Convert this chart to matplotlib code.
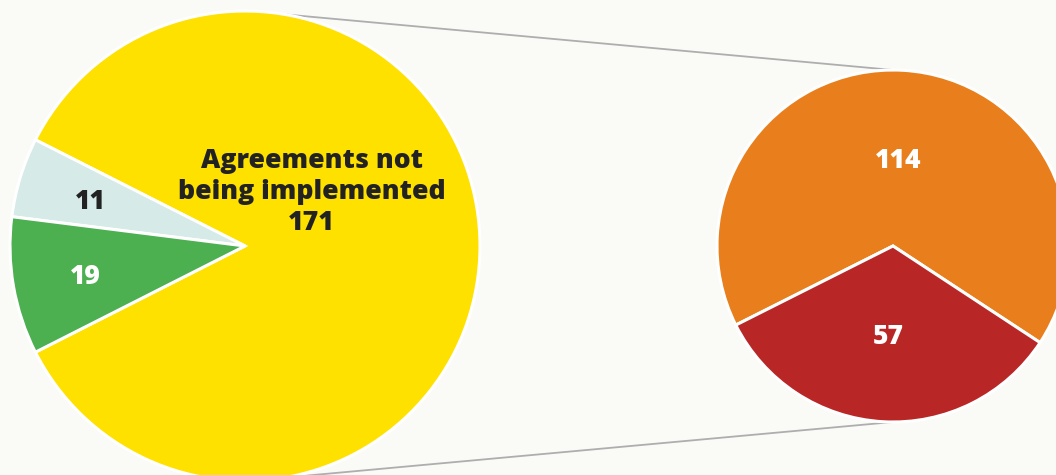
import numpy as np
import matplotlib.pyplot as plt

# ---- data ----
status_values = [171, 11, 19]
status_colors = ["#FFE100", "#D6EAE8", "#4CAF50"]
status_labels = ["", "11", "19"]
status_text_colors = ["#222222", "#222222", "#FFFFFF"]
main_label = "Agreements not\nbeing implemented\n171"

detail_values = [114, 57]
detail_colors = ["#E97F1C", "#B82725"]
detail_labels = ["114", "57"]

# ---- layout (figure pixels) ----
W, H = 1056, 475
bg = "#FAFAF7"
left_c, left_r = (245, H - 246), 235
right_c, right_r = (893, H - 246), 176

plt.rcParams['font.family'] = ['Open Sans', 'DejaVu Sans']

fig = plt.figure(figsize=(W / 100, H / 100), dpi=100, facecolor=bg)
ax = fig.add_axes([0, 0, 1, 1])
ax.set_facecolor(bg)

# connector lines first so the pies sit on top
theta = np.deg2rad(80.3)
for sgn in (1, -1):
    x0 = left_c[0] + left_r * np.cos(theta)
    y0 = left_c[1] + sgn * left_r * np.sin(theta)
    x1 = right_c[0]
    y1 = right_c[1] + sgn * right_r
    ax.plot([x0, x1], [y0, y1], color="#AEAEAE", lw=1.3, zorder=0)

# main pie: yellow slice centred on the right-hand side
start_left = -status_values[0] / sum(status_values) * 180
wedges, texts = ax.pie(status_values, colors=status_colors, labels=status_labels,
                       startangle=start_left, counterclock=True,
                       center=left_c, radius=left_r, labeldistance=0.69,
                       wedgeprops=dict(edgecolor="white", linewidth=2.2),
                       textprops=dict(fontsize=19, fontweight="heavy"),
                       frame=True)
for t, c in zip(texts, status_text_colors):
    t.set_color(c)
    t.set_ha("center")
    t.set_va("center_baseline")

ang = np.deg2rad(40)
ax.text(left_c[0] + 0.37 * left_r * np.cos(ang), left_c[1] + 0.37 * left_r * np.sin(ang) - 2,
        main_label, ha="center", va="center", color="#222222",
        fontsize=19.2, fontweight="heavy", linespacing=1.25)

# breakdown pie
wedges2, texts2 = ax.pie(detail_values, colors=detail_colors, labels=detail_labels,
                         startangle=-33.3, counterclock=True,
                         center=right_c, radius=right_r, labeldistance=0.5,
                         wedgeprops=dict(edgecolor="white", linewidth=2.2),
                         textprops=dict(fontsize=19, fontweight="heavy", color="white"),
                         frame=True)
for t in texts2:
    t.set_ha("center")
    t.set_va("center_baseline")

ax.set_xlim(0, W)
ax.set_ylim(0, H)
ax.set_aspect("auto")
ax.axis("off")

fig.savefig("out.png", dpi=100, facecolor=bg)
